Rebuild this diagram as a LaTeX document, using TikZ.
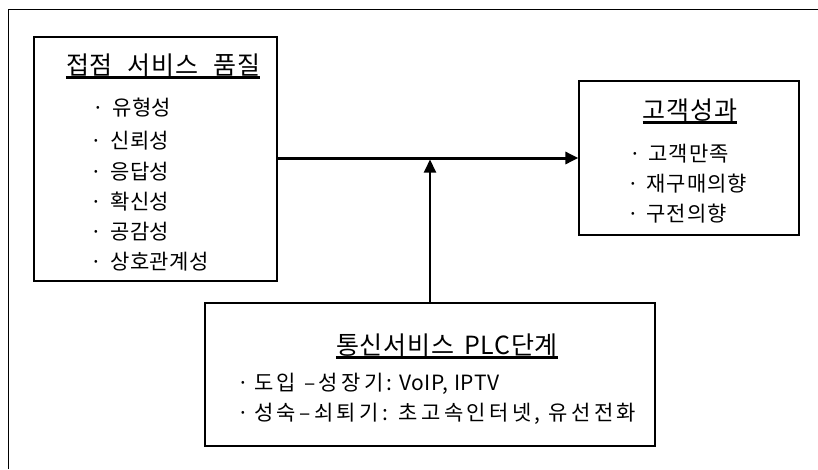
\documentclass[tikz,border=0pt]{standalone}
\usepackage{fontspec}
\setmainfont{Noto Sans CJK KR}
\newfontfamily\fttl[LetterSpace=3]{Noto Sans CJK KR}
\newfontfamily\fleft[LetterSpace=2]{Noto Sans CJK KR}
\newfontfamily\fright[LetterSpace=5]{Noto Sans CJK KR}
\newfontfamily\fbot[LetterSpace=16]{Noto Sans CJK KR}
\newfontfamily\flatinx[LetterSpace=3]{Noto Sans CJK KR}
\usetikzlibrary{arrows.meta}
\begin{document}
\begin{tikzpicture}[x=1pt,y=-1pt,
  box/.style={draw, line width=1.3pt, inner sep=0pt},
  ttl/.style={inner sep=0pt, anchor=base, font=\fttl\fontsize{25}{25}\selectfont},
  itm/.style={inner sep=0pt, anchor=west, font=\fleft\fontsize{21}{21}\selectfont},
  itmr/.style={inner sep=0pt, anchor=west, font=\fright\fontsize{21}{21}\selectfont},
  itmb/.style={inner sep=0pt, anchor=west, font=\fbot\fontsize{21}{21}\selectfont},
  uline/.style={line width=2.6pt},
  conn/.style={line width=3pt, -{Triangle[length=13pt,width=12pt]}},
  conn2/.style={line width=2pt, -{Triangle[length=13pt,width=12pt]}},
]
\useasboundingbox (0,0) rectangle (818,469);
\draw[line width=1pt] (8,469) -- (8,9) -- (818,9);
% boxes
\node[box, minimum width=243pt, minimum height=244pt] (q) at (155.5,159) {};
\node[box, minimum width=220pt, minimum height=154pt] (out) at (689,158) {};
\node[box, minimum width=450pt, minimum height=143pt] (plc) at (430,374.5) {};
% titles
\node[ttl] (t1) at (163,74) {접점\hspace{0.6em}서비스\hspace{0.6em}품질};
\draw[uline] ([yshift=-3.5pt]t1.base west) -- ([yshift=-3.5pt]t1.base east);
\node[ttl] (t2) at (690,119) {고객성과};
\draw[uline] ([yshift=-3.5pt]t2.base west) -- ([yshift=-3.5pt]t2.base east);
\node[ttl] (t3) at (447,354) {통신서비스\hspace{0.4em}PLC단계};
\draw[uline] ([yshift=-3.5pt]t3.base west) -- ([yshift=-3.5pt]t3.base east);
% items left
\node[itm] (a1) at (92,108) {·\hspace{0.4em}유형성};
\node[itm] (a2) at (90,141) {·\hspace{0.4em}신뢰성};
\node[itm] (a3) at (90,172) {·\hspace{0.4em}응답성};
\node[itm] (a4) at (90,202) {·\hspace{0.4em}확신성};
\node[itm] (a5) at (90,232) {·\hspace{0.4em}공감성};
\node[itm] (a6) at (90,262) {·\hspace{0.4em}상호관계성};
% items right
\node[itmr] (b1) at (629,154) {·\hspace{0.35em}고객만족};
\node[itmr] (b2) at (627,184) {·\hspace{0.35em}재구매의향};
\node[itmr] (b3) at (627,214) {·\hspace{0.35em}구전의향};
% items bottom
\node[itmb] (c1) at (237,384) {·\hspace{0.25em}도입 –성장기:\hspace{0.3em}{\flatinx VoIP, IPTV}};
\node[itmb] (c2) at (237,414) {·\hspace{0.25em}성숙–쇠퇴기: 초고속인터넷, 유선전화};
% connectors
\draw[conn] (q.east |- out.west) -- (out.west);
\draw[conn2] (plc.north) -- ([yshift=-1.5pt]plc.north |- out.west);
\end{tikzpicture}
\end{document}
